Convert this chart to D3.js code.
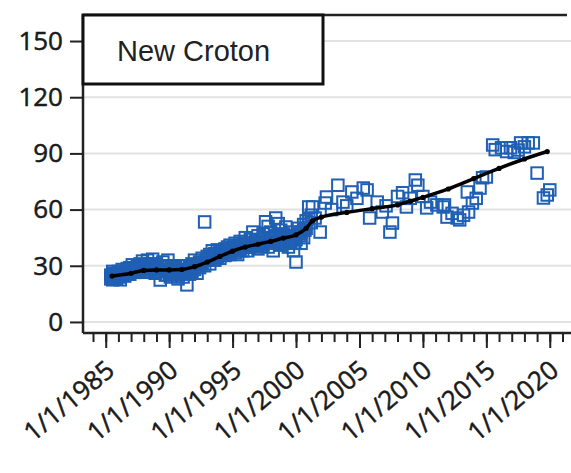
<!DOCTYPE html>
<html>
<head>
<meta charset="utf-8">
<script src="https://cdn.jsdelivr.net/npm/d3@7"></script>
<style>
	body { margin: 0; background: #fff; }
	.tick-label { font-family: "Open Sans", "DejaVu Sans", sans-serif; font-size: 26px; fill: #1a1a1a; stroke: #1a1a1a; stroke-width: 0.5px; }
	.legend-text { font-family: "Liberation Sans", Arial, sans-serif; font-size: 29px; fill: #222; }
</style>
</head>
<body>
<div class="chart"></div>
<script>
// Sample dates (decimal years) and measured values
var sampleYears = [
	1985.4, 1985.4, 1985.55, 1985.55, 1985.7, 1985.7, 1985.85, 1985.85, 1986.0, 1986.0,
	1986.15, 1986.15, 1986.3, 1986.3, 1986.5, 1986.5, 1986.7, 1986.7, 1986.9, 1986.9,
	1987.1, 1987.1, 1987.3, 1987.3, 1987.5, 1987.5, 1987.7, 1987.7, 1987.9, 1987.9,
	1988.1, 1988.1, 1988.3, 1988.3, 1988.5, 1988.5, 1988.7, 1988.7, 1988.9, 1988.9,
	1989.1, 1989.1, 1989.3, 1989.3, 1989.5, 1989.5, 1989.7, 1989.7, 1989.9, 1989.9,
	1990.1, 1990.1, 1990.3, 1990.3, 1990.5, 1990.5, 1990.7, 1990.7, 1990.9, 1990.9,
	1991.1, 1991.1, 1991.4, 1991.4, 1991.6, 1991.6, 1991.8, 1991.8, 1992.0, 1992.0,
	1992.2, 1992.2, 1992.4, 1992.4, 1992.6, 1992.6, 1992.8, 1992.8, 1993.0, 1993.0,
	1993.2, 1993.2, 1993.4, 1993.4, 1993.6, 1993.6, 1993.8, 1993.8, 1994.0, 1994.0,
	1994.2, 1994.2, 1994.4, 1994.4, 1994.6, 1994.6, 1994.8, 1994.8, 1995.0, 1995.0,
	1995.2, 1995.2, 1995.4, 1995.4, 1995.6, 1995.6, 1995.8, 1995.8, 1996.0, 1996.0,
	1996.2, 1996.2, 1996.4, 1996.4, 1996.6, 1996.6, 1996.8, 1996.8, 1997.0, 1997.0,
	1997.2, 1997.2, 1997.4, 1997.4, 1997.6, 1997.6, 1997.8, 1997.8, 1998.0, 1998.0,
	1998.2, 1998.2, 1998.4, 1998.4, 1998.6, 1998.6, 1998.8, 1998.8, 1999.0, 1999.0,
	1999.2, 1999.2, 1999.4, 1999.4, 1999.6, 1999.6, 1999.8, 1999.8, 2000.0, 2000.0,
	2000.2, 2000.2, 2000.4, 2000.4, 2000.6, 2000.6, 2000.8, 2000.8, 2001.0, 2001.0,
	2001.2, 2001.2,
	1985.5, 1985.95, 1986.4, 1986.8, 1987.2, 1987.6, 1988.0, 1988.4, 1988.8, 1989.2,
	1989.6, 1990.0, 1990.4, 1990.8, 1991.2, 1991.7, 1992.1, 1992.5, 1993.1, 1993.5,
	1993.9, 1994.3, 1994.7, 1995.1, 1995.5, 1995.9, 1996.3, 1996.7, 1997.1, 1997.5,
	1997.9, 1998.3, 1998.7, 1999.1, 1999.5, 1999.9, 2000.3, 2000.7,
	2001.5, 2001.3, 2001.9, 2002.3, 2002.4, 2002.8, 2003.3, 2003.7, 2004.0, 2004.4,
	2004.8, 2005.3, 2005.6, 2005.8, 2006.4, 2006.8, 2007.1, 2007.4, 2007.6, 2008.0,
	2008.4, 2008.7, 2009.0, 2009.4, 2009.6, 2010.0, 2010.3, 2010.6, 2011.1, 2011.6,
	2011.7, 2011.9, 2012.3, 2012.7, 2012.9, 2013.2, 2013.5, 2013.6, 2013.9, 2014.2,
	2014.5, 2014.7, 2015.0, 2015.5, 2015.7, 2016.2, 2016.6, 2016.9, 2017.2, 2017.5,
	2017.7, 2018.0, 2018.3, 2018.7, 2019.0, 2019.5, 2019.8, 2020.0
];
var sampleValues = [
	25, 23, 27, 22.5, 24, 26, 23, 25.5, 27, 24,
	22.5, 26, 25, 28, 24.5, 27, 26, 28.5, 25.5, 29,
	27, 30.5, 26.5, 28, 30, 27.5, 29, 31, 28, 32.5,
	30, 26.5, 33, 29, 31, 27, 33.5, 28.5, 31, 26,
	29, 27, 22.4, 30, 32, 28, 29.5, 25, 33, 27,
	28, 24, 26, 30, 29, 27.5, 25, 23, 28, 26,
	24, 30, 19.8, 27, 29, 25.5, 31, 27, 28, 33,
	30, 26, 32, 29, 34, 31, 53.4, 30, 33, 35,
	31, 36, 34, 38, 36.5, 33, 35, 38.5, 37, 34,
	38, 36, 35.5, 39, 37, 40, 41, 36, 38, 39,
	42, 37, 40, 36, 43, 39, 38, 41, 45, 40,
	42, 38, 44, 40.5, 48, 41, 40, 43, 46, 39,
	42, 44, 47, 41, 53.5, 43, 51, 40, 45, 48,
	42, 38, 55.5, 46, 52.5, 43, 49, 41, 47, 44,
	50.7, 42, 45, 40, 48, 43, 38, 46, 32, 44,
	47, 50, 42, 48, 52, 45, 50, 54, 61.4, 55,
	57, 53,
	24, 25, 26.5, 27, 28.5, 29, 28, 30, 30.5, 28,
	30, 26, 28, 27, 26.5, 28, 30, 31.5, 34, 35,
	36, 37, 38, 40, 38.5, 42, 40, 42, 43, 45,
	44, 43, 45, 46, 44, 42, 46, 49,
	55.5, 61.4, 48, 63.5, 66.7, 60, 73, 64, 62, 69.4,
	66, 71.5, 70.5, 55.5, 64, 58.7, 62, 48, 52.8, 67,
	69, 61.4, 66, 75.8, 73, 67, 60.9, 64, 62.5, 61.4,
	62.5, 56, 58, 55.5, 54.5, 57, 69.4, 58.7, 63.5, 66,
	71.5, 77, 77.4, 94.5, 92, 93, 91, 93, 90.5, 91.8,
	95.6, 93.5, 95.6, 95.6, 79.5, 66.2, 67.8, 70.5
];

// Fitted trend (decimal years and values)
var trendYears = [1985.5, 1987, 1988, 1989, 1990, 1991, 1992, 1993, 1994, 1995, 1996, 1997, 1998, 1999, 2000, 2000.8,
	2001.3, 2002, 2004, 2006, 2008, 2009, 2010, 2012, 2014, 2016, 2018, 2019.8];
var trendValues = [24.5, 26, 27.5, 27.8, 27.8, 28, 29.5, 32, 35, 37.8, 40, 41.5, 43, 44.8, 46.5, 50,
	54, 56, 58.5, 60.5, 62.5, 64.5, 66.5, 71, 76.5, 82, 87, 91];

var yTicks = [0, 30, 60, 90, 120, 150];
var legendLabel = "New Croton";

var width = 571, height = 473;
var plotLeft = 83, plotRight = 571, plotTop = 15, plotBottom = 333;

// Turn a decimal year into a Date
function toDate(yr) {
	var whole = Math.floor(yr);
	return new Date(whole, 0, 1 + Math.round((yr - whole) * 365));
}

var svg = d3.select('.chart')
	.append('svg')
	.attr('width', width)
	.attr('height', height);

var x = d3.scaleTime()
	.domain([toDate(1983.21), toDate(2021.67)])
	.range([plotLeft, plotRight]);

var y = d3.scaleLinear()
	.domain([-5.9, 163.9])
	.range([plotBottom, plotTop]);

// Horizontal grid lines
svg.append('g')
	.selectAll('line')
	.data(yTicks)
	.join('line')
	.attr('x1', plotLeft)
	.attr('x2', plotRight)
	.attr('y1', function(d) { return y(d); })
	.attr('y2', function(d) { return y(d); })
	.attr('stroke', '#e2e2e2')
	.attr('stroke-width', 2);

// Top frame line
svg.append('line')
	.attr('x1', plotLeft)
	.attr('x2', 567)
	.attr('y1', plotTop)
	.attr('y2', plotTop)
	.attr('stroke', '#222')
	.attr('stroke-width', 2.5);

// Y axis
var yAxis = svg.append('g')
	.attr('transform', 'translate(' + plotLeft + ',0)')
	.call(d3.axisLeft(y).tickValues(yTicks).tickSize(13).tickPadding(7));
yAxis.select('.domain').attr('stroke', '#222').attr('stroke-width', 2.5)
	.attr('d', 'M0,' + plotTop + 'V' + plotBottom);
yAxis.selectAll('.tick line').attr('stroke', '#222').attr('stroke-width', 2);
yAxis.selectAll('.tick text').attr('class', 'tick-label');
yAxis.attr('font-size', null).attr('font-family', null);

// X axis: minor yearly ticks
var xMinor = svg.append('g')
	.attr('transform', 'translate(0,' + plotBottom + ')')
	.call(d3.axisBottom(x).ticks(d3.timeYear.every(1)).tickSize(9).tickFormat(''));
xMinor.select('.domain').remove();
xMinor.selectAll('.tick line').attr('stroke', '#222').attr('stroke-width', 2);

// X axis: major ticks every five years
var xAxis = svg.append('g')
	.attr('transform', 'translate(0,' + plotBottom + ')')
	.call(d3.axisBottom(x).ticks(d3.timeYear.every(5)).tickSize(15).tickFormat(d3.timeFormat('%-m/%-d/%Y')));
xAxis.attr('font-size', null).attr('font-family', null);
xAxis.select('.domain').attr('stroke', '#222').attr('stroke-width', 2.5)
	.attr('d', 'M' + plotLeft + ',0H' + plotRight);
xAxis.selectAll('.tick line').attr('stroke', '#222').attr('stroke-width', 2);
xAxis.selectAll('.tick text')
	.attr('class', 'tick-label')
	.attr('y', 0)
	.attr('dy', 0)
	.attr('text-anchor', 'end')
	.attr('transform', 'translate(10,40) rotate(-40)');

// Sample squares
var size = 11.5;
svg.append('g')
	.selectAll('rect')
	.data(d3.range(sampleYears.length))
	.join('rect')
	.attr('x', function(i) { return x(toDate(sampleYears[i])) - size / 2; })
	.attr('y', function(i) { return y(sampleValues[i]) - size / 2; })
	.attr('width', size)
	.attr('height', size)
	.attr('fill', 'none')
	.attr('stroke', '#1f5fb4')
	.attr('stroke-width', 2);

// Trend line with dots
var trendLine = d3.line()
	.x(function(i) { return x(toDate(trendYears[i])); })
	.y(function(i) { return y(trendValues[i]); })
	.curve(d3.curveMonotoneX);

svg.append('path')
	.datum(d3.range(trendYears.length))
	.attr('d', trendLine)
	.attr('fill', 'none')
	.attr('stroke', '#000')
	.attr('stroke-width', 3.5);

svg.append('g')
	.selectAll('circle')
	.data(d3.range(trendYears.length))
	.join('circle')
	.attr('cx', function(i) { return x(toDate(trendYears[i])); })
	.attr('cy', function(i) { return y(trendValues[i]); })
	.attr('r', 2.6)
	.attr('fill', '#000');

// Legend box
svg.append('rect')
	.attr('x', plotLeft)
	.attr('y', plotTop)
	.attr('width', 240)
	.attr('height', 69)
	.attr('fill', '#fff')
	.attr('stroke', '#111')
	.attr('stroke-width', 3);

svg.append('text')
	.attr('class', 'legend-text')
	.attr('x', 117)
	.attr('y', 61)
	.text(legendLabel);
</script>
</body>
</html>
